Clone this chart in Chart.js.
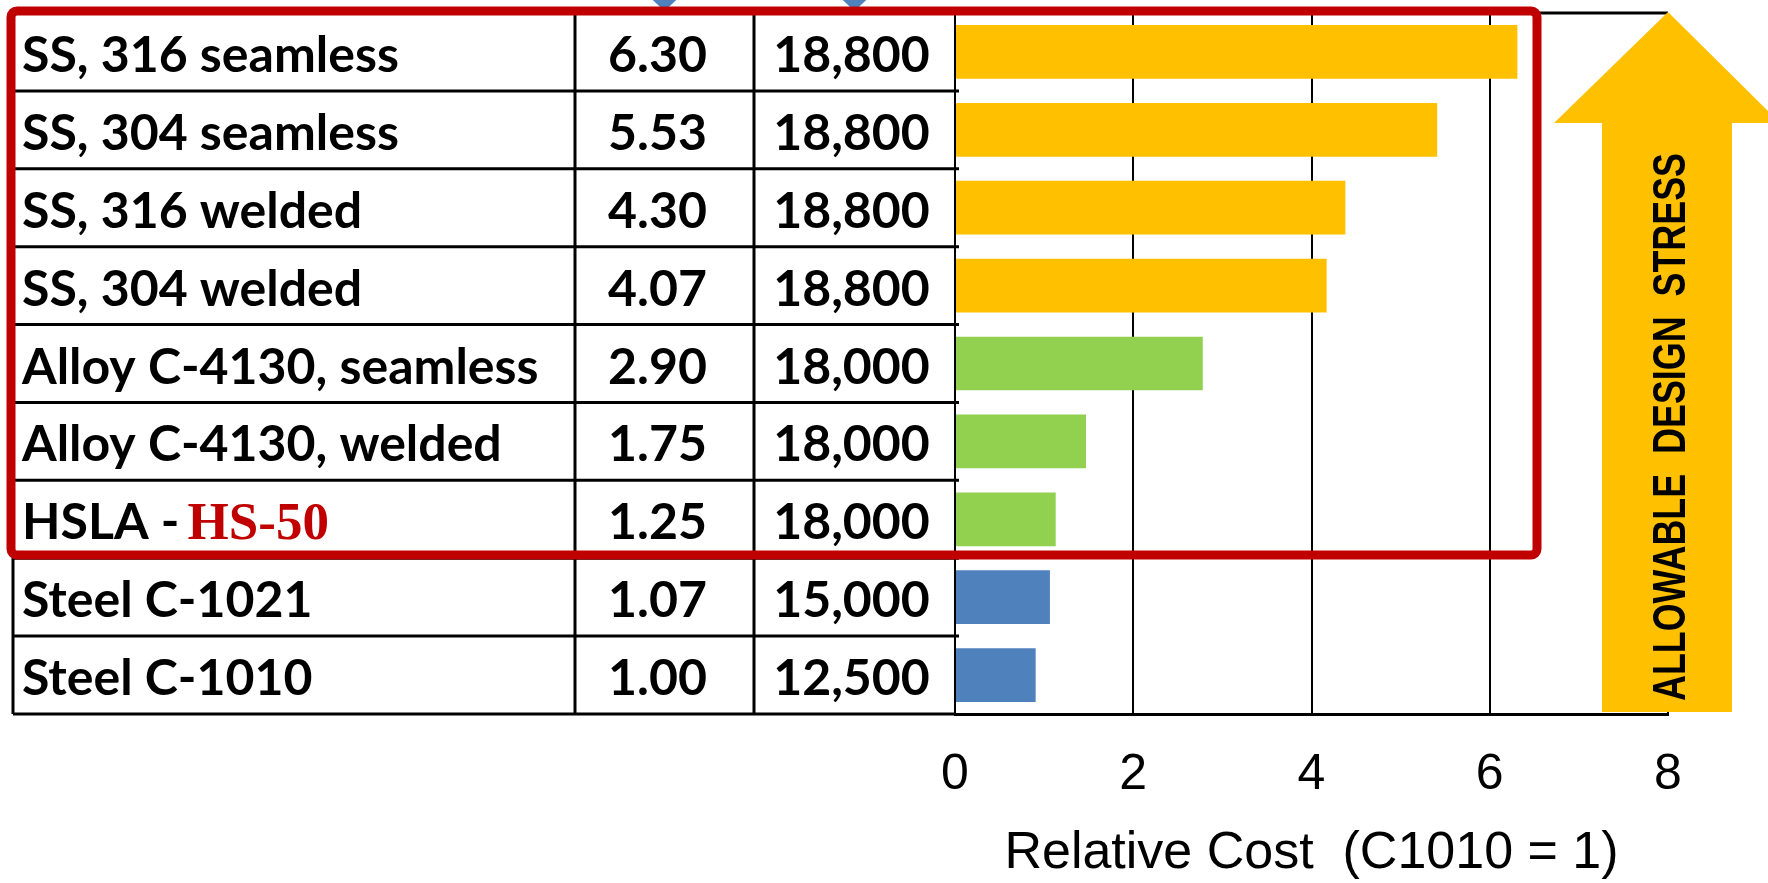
<!DOCTYPE html>
<html>
<head>
<meta charset="utf-8">
<title>Relative Cost</title>
<script src="https://cdn.jsdelivr.net/npm/chart.js@4.4.1/dist/chart.umd.min.js"></script>
<style>
 html, body { margin: 0; padding: 0; background: #ffffff; }
 #zone { width: 1768px; height: 883px; }
</style>
</head>
<body>
<div id="zone"><canvas id="idCourbe" width="1768" height="883"></canvas></div>
<script>
/********************************* Data ***************************************************************************************/
 var Materials     = [ "SS, 316 seamless", "SS, 304 seamless", "SS, 316 welded", "SS, 304 welded",
                       "Alloy C-4130, seamless", "Alloy C-4130, welded", "HSLA - HS-50", "Steel C-1021", "Steel C-1010" ];
 var Grades        = [ "stainless", "stainless", "stainless", "stainless", "alloy", "alloy", "alloy", "carbon", "carbon" ];
 var Cost_factor   = [ 6.30, 5.53, 4.30, 4.07, 2.90, 1.75, 1.25, 1.07, 1.00 ];
 var Design_stress = [ 18800, 18800, 18800, 18800, 18000, 18000, 18000, 15000, 12500 ];
 var Relative_cost = [ 6.31, 5.41, 4.38, 4.17, 2.78, 1.47, 1.13, 1.065, 0.905 ];
 var Cost_ticks    = [ 0, 2, 4, 6, 8 ];
 var Red_grade     = "HS-50";
 var Axis_title    = "Relative Cost  (C1010 = 1)";
 var Arrow_title   = "ALLOWABLE  DESIGN  STRESS";

/********************************* Styles *************************************************************************************/
 var Grade_colors  = { stainless: "#FFC000", alloy: "#92D050", carbon: "#4F81BD" };
 var Red           = "#C00000";
 var Table_font    = "bold 50px Lato";
 var Table_left    = 13;
 var Table_cols    = [ 575, 754 ];                                            /* the last column ends on the chart area */

/********************************* Rounded rectangle path *********************************************************************/
 function Rect_rounded ( ctx, x, y, w, h, r )
  { ctx.beginPath();
    ctx.moveTo(x+r, y);
    ctx.lineTo(x+w-r, y);   ctx.arcTo(x+w, y,   x+w,   y+r,   r);
    ctx.lineTo(x+w, y+h-r); ctx.arcTo(x+w, y+h, x+w-r, y+h,   r);
    ctx.lineTo(x+r, y+h);   ctx.arcTo(x,   y+h, x,     y+h-r, r);
    ctx.lineTo(x, y+r);     ctx.arcTo(x,   y,   x+r,   y,     r);
    ctx.closePath();
  }

/********************************* Table drawn on the left of the bars ********************************************************/
 var Table_plugin =
  { id: "table_materials",
    afterDatasetsDraw: function (chart)
     { var ctx  = chart.ctx;
       var area = chart.chartArea;
       var sy   = chart.scales.y;
       var band = (area.bottom - area.top) / Materials.length;
       var i;

       ctx.save();
       ctx.strokeStyle = "#000000";
       ctx.lineWidth   = 3;
       ctx.beginPath();                                                                          /* frame and row lines */
       ctx.moveTo(Table_left, area.top);    ctx.lineTo(area.right, area.top);
       ctx.moveTo(Table_left, area.bottom); ctx.lineTo(area.left, area.bottom);
       for (i=1; i<Materials.length; i++)
        { var yl = sy.getPixelForValue(i) - band/2;
          ctx.moveTo(Table_left, yl); ctx.lineTo(area.left+4, yl);
        }
       ctx.moveTo(Table_left, area.top); ctx.lineTo(Table_left, area.bottom);
       for (i=0; i<Table_cols.length; i++)
        { ctx.moveTo(Table_cols[i], area.top); ctx.lineTo(Table_cols[i], area.bottom); }
       ctx.stroke();

       var centre1 = (Table_cols[0]+Table_cols[1])/2;
       var centre2 = (Table_cols[1]+area.left)/2;
       ctx.fillStyle    = "#000000";
       ctx.textBaseline = "alphabetic";
       for (i=0; i<Materials.length; i++)
        { var base = sy.getPixelForValue(i) + 20;
          var nom  = Materials[i];
          ctx.font = Table_font;
          ctx.textAlign = "left";
          if (nom.indexOf(Red_grade) > 0)                                           /* grade written in red serif */
           { var debut = nom.substring(0, nom.indexOf(Red_grade));
             ctx.fillText(debut, Table_left+9, base);
             var dx = ctx.measureText(debut).width;
             ctx.font = "bold 53px 'Liberation Serif'";
             ctx.fillStyle = Red;
             ctx.fillText(Red_grade, Table_left+dx+5, base);
             ctx.fillStyle = "#000000";
             ctx.font = Table_font;
           }
          else ctx.fillText(nom, Table_left+9, base);
          ctx.textAlign = "center";
          ctx.fillText(Cost_factor[i].toFixed(2), centre1-7, base);
          ctx.fillText(Design_stress[i].toLocaleString("en-US"), centre2-3, base);
        }

       ctx.fillStyle = "#4F81BD";                                              /* cut markers above the two columns */
       [centre1, centre2].forEach( function (cx)
        { ctx.beginPath(); ctx.moveTo(cx-15, -3); ctx.lineTo(cx+15, -3); ctx.lineTo(cx, 11); ctx.closePath(); ctx.fill(); } );

       ctx.strokeStyle = Red;                                                                 /* red selection frame */
       ctx.lineWidth   = 9;
       Rect_rounded(ctx, 11, 11, 1526, 544, 6);
       ctx.stroke();

       var ax = area.right, tip = area.top - 1;                                       /* allowable design stress arrow */
       ctx.fillStyle = "#FFC000";
       ctx.beginPath();
       ctx.moveTo(ax, tip);
       ctx.lineTo(ax+112, tip+111); ctx.lineTo(ax+64, tip+111);
       ctx.lineTo(ax+64, area.bottom-2); ctx.lineTo(ax-66, area.bottom-2);
       ctx.lineTo(ax-66, tip+111); ctx.lineTo(ax-114, tip+111);
       ctx.closePath();
       ctx.fill();

       ctx.font = "bold 46px 'Liberation Sans'";
       var k = 548 / ctx.measureText(Arrow_title).width;
       ctx.translate(ax+1, 427);
       ctx.rotate(-Math.PI/2);
       ctx.scale(k, 1);
       ctx.fillStyle = "#000000";
       ctx.textAlign = "center";
       ctx.fillText(Arrow_title, 0, 16);
       ctx.restore();
     }
  };

/********************************* Chart creation *****************************************************************************/
 function Create_chart ()
  { var ctx = document.getElementById("idCourbe").getContext("2d");
    var data = { labels: Materials,
                 datasets: [ { data: Relative_cost,
                               backgroundColor: Grades.map( function (g) { return Grade_colors[g]; } ),
                               barPercentage: 0.69,
                               categoryPercentage: 1.0,
                               borderWidth: 0
                             } ]
               };
    var options = { responsive: false,
                    animation: false,
                    devicePixelRatio: 1,
                    indexAxis: "y",
                    layout: { padding: { left: 955, right: 100, top: 13, bottom: 0 } },
                    plugins: { legend: { display: false }, tooltip: { enabled: false } },
                    scales: { x: { type: "linear", min: 0, max: 8,
                                   afterBuildTicks: function (scale) { scale.ticks = Cost_ticks.map( function (v) { return { value: v }; } ); },
                                   afterFit: function (scale) { scale.height = 169; },
                                   grid: { color: "#000000", lineWidth: 2, drawTicks: false },
                                   border: { display: true, color: "#000000", width: 3 },
                                   ticks: { color: "#000000", padding: 36,
                                            font: { family: "'Liberation Sans', Arial", size: 50, lineHeight: 1 } },
                                   title: { display: true, text: Axis_title, color: "#000000",
                                            padding: { top: 0, bottom: 3 },
                                            font: { family: "'Liberation Sans', Arial", size: 52, lineHeight: 1 } }
                                 },
                              y: { type: "category", display: false }
                            }
                  };
    new Chart(ctx, { type: "bar", data: data, options: options, plugins: [ Table_plugin ] });
  }

 Promise.all( [ document.fonts.load("700 50px Lato"), document.fonts.load("700 53px 'Liberation Serif'"),
                document.fonts.load("50px 'Liberation Sans'"), document.fonts.load("700 46px 'Liberation Sans'") ] )
        .then(Create_chart, Create_chart);
</script>
</body>
</html>
